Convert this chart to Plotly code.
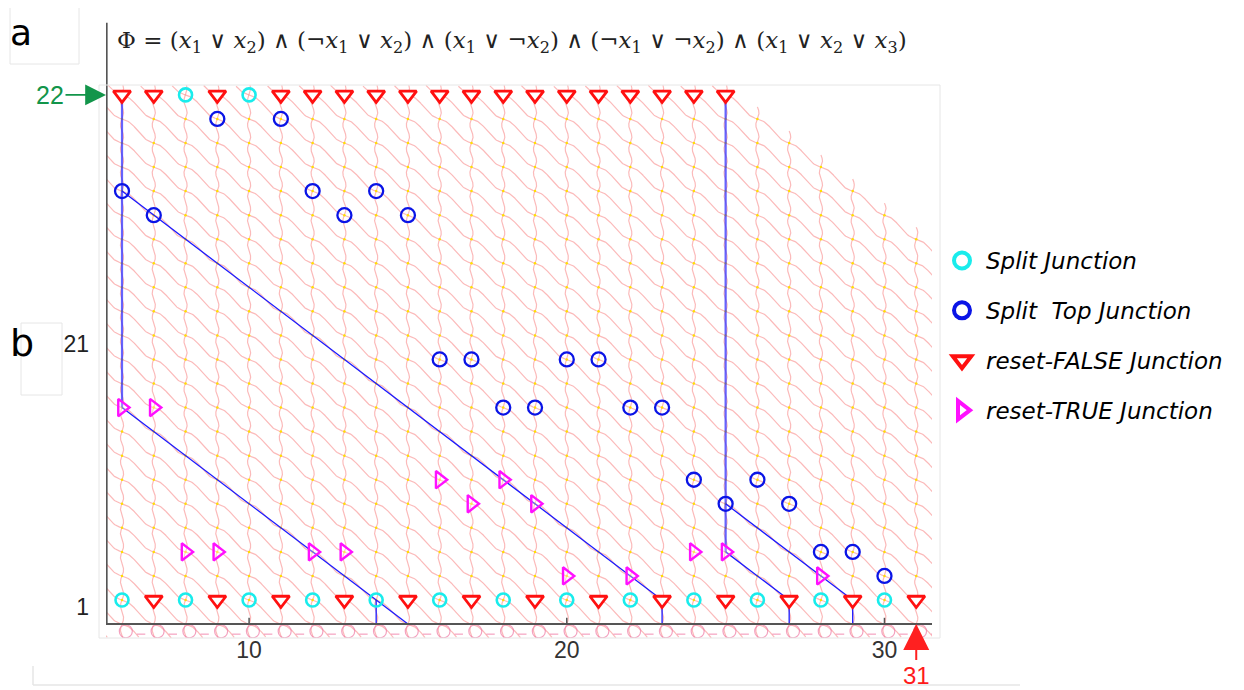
import numpy as np
import plotly.graph_objects as go

# ---------------- data ----------------
columns = list(range(6, 32))          # junction columns
pattern_top = 22.4                    # top edge of lattice texture
pattern_cut = 47.5                    # diagonal cut of lattice: x + y = 47.5
pattern_bottom = -0.58

split_x = [8, 10, 6, 8, 10, 12, 14, 16, 18, 20, 22, 24, 26, 28, 30]
split_y = [22, 22, 1, 1, 1, 1, 1, 1, 1, 1, 1, 1, 1, 1, 1]

top_x = [9, 11, 6, 12, 14, 7, 13, 15, 16, 17, 20, 21, 18, 19, 22, 23, 24, 26, 25, 27, 28, 29, 30]
top_y = [21, 21, 18, 18, 18, 17, 17, 17, 11, 11, 11, 11, 9, 9, 9, 9, 6, 6, 5, 5, 3, 3, 2]

false_x = [6, 7, 9, 11, 12, 13, 14, 15, 16, 17, 18, 19, 20, 21, 22, 23, 24, 25,
           7, 9, 11, 13, 15, 17, 19, 21, 23, 25, 27, 29, 31]
false_y = [22] * 18 + [1] * 13

true_x = [6, 7, 16, 18, 17, 19, 8, 9, 12, 13, 24, 25, 20, 22, 28]
true_y = [9, 9, 6, 6, 5, 5, 3, 3, 3, 3, 3, 3, 2, 2, 2]

vert_paths = [([6, 6], [22, 9]), ([25, 25], [22, 3])]
diag_paths = [([6, 15], [9, 0]), ([14, 14], [1, 0]), ([6, 23, 23], [18, 1, 0]),
              ([25, 29, 29], [5, 1, 0]), ([25, 27, 27], [3, 1, 0])]

x_ticks = [10, 20, 30]
y_tick_vals = [0.7, 11.64]
y_tick_text = ["1", "21"]

formula = ("Φ = (<i>x</i><sub>1</sub> ∨ <i>x</i><sub>2</sub>) ∧ (¬<i>x</i><sub>1</sub> ∨ <i>x</i><sub>2</sub>) ∧ "
           "(<i>x</i><sub>1</sub> ∨ ¬<i>x</i><sub>2</sub>) ∧ (¬<i>x</i><sub>1</sub> ∨ ¬<i>x</i><sub>2</sub>) ∧ "
           "(<i>x</i><sub>1</sub> ∨ <i>x</i><sub>2</sub> ∨ <i>x</i><sub>3</sub>)")

legend_names = ["Split Junction", "Split\u00a0 Top Junction", "reset-FALSE Junction", "reset-TRUE Junction"]

# ---------------- layout geometry (window pixels) ----------------
W, H = 1244, 690
OFF = 8                      # page body margin
L, R, T, B = 106, 932, 22, 638
XR = [5.496, 31.496]
YR = [-0.58, 25.03]


def px(p):
    return (p - L) / (R - L)


def py(p):
    return (B - p) / (B - T)


def top_edge(x):
    return np.minimum(pattern_top, pattern_cut - x)


fig = go.Figure()

# ---- lattice texture (decoration) ----
PINK = "rgba(248,130,130,0.55)"
vx, vy = [], []
for k in columns:
    rr = np.linspace(pattern_bottom, float(top_edge(k)), 160)
    vx += list(k + 0.05 * np.sin(2 * np.pi * rr)) + [None]
    vy += list(rr) + [None]
fig.add_trace(go.Scatter(x=vx, y=vy, mode="lines", line=dict(color=PINK, width=1.2),
                         hoverinfo="skip", showlegend=False))

dx, dy = [], []
xs = np.linspace(XR[0] - 0.5, XR[1] + 0.5, 900)
for c in range(5, 48):
    rr = c - xs + 0.0955 * np.sin(2 * np.pi * xs)
    mask = (rr > top_edge(xs)) | (rr < pattern_bottom)
    rr = np.where(mask, np.nan, rr)
    dx += list(xs) + [None]
    dy += [None if np.isnan(v) else v for v in rr] + [None]
fig.add_trace(go.Scatter(x=dx, y=dy, mode="lines", line=dict(color=PINK, width=1.2),
                         hoverinfo="skip", showlegend=False))

# lattice nodes
nx, ny = [], []
for k in columns:
    for r in range(1, 22):
        if r <= top_edge(k):
            nx.append(k)
            ny.append(r)
fig.add_trace(go.Scatter(x=nx, y=ny, mode="markers", marker=dict(color="#ffe000", size=2.5),
                         hoverinfo="skip", showlegend=False))

# loops band under the axis
fig.add_trace(go.Scatter(x=[k + 0.12 for k in columns], y=[-0.3] * len(columns), mode="markers",
                         marker=dict(symbol="circle-open", size=13, color="rgba(240,130,170,0.75)",
                                     line=dict(width=1.2)),
                         hoverinfo="skip", showlegend=False))
fig.add_trace(go.Scatter(x=[k + 0.6 for k in columns], y=[-0.42] * len(columns), mode="markers",
                         marker=dict(symbol="line-ew-open", size=6, color="rgba(240,130,170,0.75)",
                                     line=dict(width=1.2)),
                         hoverinfo="skip", showlegend=False))

# ---- blue paths ----
for xx, yy in vert_paths:
    fig.add_trace(go.Scatter(x=xx, y=yy, mode="lines", line=dict(color="rgba(50,50,255,0.75)", width=2.2),
                             hoverinfo="skip", showlegend=False))
for xx, yy in diag_paths:
    fig.add_trace(go.Scatter(x=xx, y=yy, mode="lines", line=dict(color="#1a1aff", width=1.3),
                             hoverinfo="skip", showlegend=False))

# ---- junction markers ----
CYAN, BLUE, RED, MAG = "#19ecec", "#0a14e6", "#ff1010", "#ff10ff"
fig.add_trace(go.Scatter(x=split_x, y=split_y, mode="markers", showlegend=False,
                         marker=dict(symbol="circle-open", size=13, color=CYAN, line=dict(width=2.6))))
fig.add_trace(go.Scatter(x=top_x, y=top_y, mode="markers", showlegend=False,
                         marker=dict(symbol="circle-open", size=14, color=BLUE, line=dict(width=2.3))))
fig.add_trace(go.Scatter(x=false_x, y=false_y, mode="markers", showlegend=False,
                         marker=dict(symbol="triangle-down", size=15, color="white",
                                     line=dict(width=2.8, color=RED))))
fig.add_trace(go.Scatter(x=true_x, y=true_y, mode="markers", showlegend=False,
                         marker=dict(symbol="triangle-right", size=15, color="rgba(255,255,255,0.3)",
                                     line=dict(width=2.4, color=MAG))))

# legend-only entries
leg_styles = [("circle-open", CYAN), ("circle-open", BLUE),
              ("triangle-down-open", RED), ("triangle-right-open", MAG)]
for i, (name, (sym, col)) in enumerate(zip(legend_names, leg_styles)):
    fig.add_trace(go.Scatter(x=[None], y=[None], mode="markers", name=name, legendgroup=str(i),
                             marker=dict(symbol=sym, size=16, color=col, line=dict(width=4, color=col))))

# ---- axis lines as shapes ----
AX = "#555555"
shapes = [
    dict(type="line", xref="x", yref="y", x0=XR[0], x1=XR[1], y0=0, y1=0, line=dict(color=AX, width=2)),
    dict(type="line", xref="x", yref="y", x0=XR[0] + 0.02, x1=XR[0] + 0.02, y0=0, y1=25,
         line=dict(color=AX, width=2)),
]
for t in x_ticks:
    shapes.append(dict(type="line", xref="x", yref="y", x0=t, x1=t, y0=0, y1=0.26,
                       line=dict(color=AX, width=1.5)))
FR = "#e6e6e6"
shapes += [
    dict(type="rect", xref="paper", yref="paper", x0=px(99), x1=px(940), y0=py(638), y1=py(85),
         line=dict(color=FR, width=1)),
    dict(type="rect", xref="paper", yref="paper", x0=px(10), x1=px(79), y0=py(64), y1=py(-2),
         line=dict(color=FR, width=1)),
    dict(type="rect", xref="paper", yref="paper", x0=px(21), x1=px(62), y0=py(395), y1=py(323),
         line=dict(color=FR, width=1)),
    dict(type="line", xref="paper", yref="paper", x0=px(33), x1=px(1020), y0=py(685), y1=py(685),
         line=dict(color=FR, width=1.5)),
    dict(type="line", xref="paper", yref="paper", x0=px(33), x1=px(33), y0=py(666), y1=py(685),
         line=dict(color=FR, width=1.5)),
]

annotations = [
    dict(xref="paper", yref="paper", x=px(512), y=py(42), xanchor="center", yanchor="middle",
         text=formula, showarrow=False, font=dict(family="DejaVu Serif", size=23, color="#222")),
    dict(xref="paper", yref="paper", x=px(21), y=py(32), xanchor="center", yanchor="middle",
         text="a", showarrow=False, font=dict(family="DejaVu Sans", size=36, color="black")),
    dict(xref="paper", yref="paper", x=px(22), y=py(343), xanchor="center", yanchor="middle",
         text="b", showarrow=False, font=dict(family="DejaVu Sans", size=38, color="black")),
    dict(xref="x", yref="y", x=XR[0], y=22, text="22", showarrow=True, ax=-56, ay=0,
         arrowhead=2, arrowsize=2.6, arrowwidth=1.6, arrowcolor="#12954a", standoff=0,
         font=dict(family="Liberation Sans", size=25, color="#12954a")),
    dict(xref="x", yref="y", x=31, y=0, text="31", showarrow=True, ax=0, ay=51,
         arrowhead=2, arrowsize=2.6, arrowwidth=2, arrowcolor="#ff2020", standoff=0,
         font=dict(family="Liberation Sans", size=24, color="#ff1a1a")),
]

fig.update_layout(
    width=W - OFF, height=H - OFF,
    margin=dict(l=L - OFF, r=W - R, t=T - OFF, b=H - B, autoexpand=False),
    paper_bgcolor="white", plot_bgcolor="white",
    shapes=shapes, annotations=annotations,
    xaxis=dict(range=XR, showgrid=False, zeroline=False, showline=False, ticks="",
               tickvals=x_ticks, ticktext=[str(t) for t in x_ticks], ticklabelstandoff=-4,
               tickfont=dict(family="Liberation Sans", size=23, color="#333")),
    yaxis=dict(range=YR, showgrid=False, zeroline=False, showline=False, ticks="",
               tickvals=y_tick_vals, ticktext=y_tick_text, ticklabelstandoff=16,
               tickfont=dict(family="Liberation Sans", size=23, color="#222")),
    legend=dict(x=px(938), y=py(239), xanchor="left", yanchor="top", bgcolor="rgba(0,0,0,0)",
                tracegroupgap=17, itemsizing="trace", itemwidth=38,
                font=dict(family="DejaVu Sans", size=23, color="black", style="italic")),
    showlegend=True,
)

fig.write_html("out.html")
